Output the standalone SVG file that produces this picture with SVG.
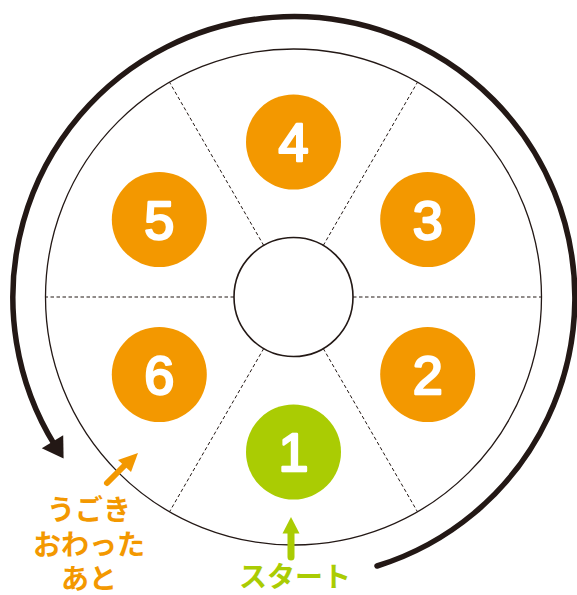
<svg xmlns="http://www.w3.org/2000/svg" width="577" height="595" viewBox="0 0 577 595">
<style>
.num{font-family:"Liberation Sans","DejaVu Sans",sans-serif;font-size:54px;fill:#fff;stroke:#fff;stroke-width:2.5;stroke-linejoin:round;text-anchor:middle}
.jp{font-family:"Noto Sans CJK JP",sans-serif;font-weight:bold;font-size:28px;text-anchor:middle}
.div{stroke:#231815;stroke-width:1;stroke-dasharray:3.5 2.5;fill:none}
.orange{fill:#F39800}
</style>
<rect width="577" height="595" fill="#fff"/>
<g id="wheel">
<circle cx="293.5" cy="297" r="248" fill="none" stroke="#231815" stroke-width="1.3"/>
</g>
<g id="connectors">
<line class="div" x1="353" y1="297" x2="541.5" y2="297"/>
<line class="div" x1="234" y1="297" x2="45.5" y2="297"/>
<line class="div" x1="323.25" y1="245.5" x2="417.5" y2="82.2"/>
<line class="div" x1="263.75" y1="245.5" x2="169.5" y2="82.2"/>
<line class="div" x1="323.25" y1="348.5" x2="417.5" y2="511.8"/>
<line class="div" x1="263.75" y1="348.5" x2="169.5" y2="511.8"/>
<path d="M377 566 A281 281 0 1 0 55.2 445.9" fill="none" stroke="#231815" stroke-width="5.5" stroke-linecap="round"/>
<polygon points="63.6,458.6 41.8,448.2 63.2,435.2" fill="#231815"/>
<line x1="107" y1="483" x2="127" y2="463" stroke="#F39800" stroke-width="6" stroke-linecap="round"/>
<polygon points="138,453 118,460 131,472" fill="#F39800"/>
<line x1="291" y1="557" x2="291" y2="528" stroke="#AACC03" stroke-width="7" stroke-linecap="round"/>
<polygon points="291,517 282.5,533.5 299.5,533.5" fill="#AACC03"/>
</g>
<g id="center"><circle cx="293.5" cy="297" r="59.5" fill="#fff" stroke="#231815" stroke-width="1.6"/></g>
<g id="n1"><circle cx="293.5" cy="452" r="47.5" fill="#AACC03"/><text class="num" x="293.5" y="471.3">1</text></g>
<g id="n2"><circle cx="427.7" cy="374.5" r="47.5" class="orange"/><text class="num" x="427.7" y="393.8">2</text></g>
<g id="n3"><circle cx="427.7" cy="219.5" r="47.5" class="orange"/><text class="num" x="427.7" y="238.8">3</text></g>
<g id="n4"><circle cx="293.5" cy="142" r="47.5" class="orange"/><text class="num" x="293.5" y="161.3">4</text></g>
<g id="n5"><circle cx="159.3" cy="219.5" r="47.5" class="orange"/><text class="num" x="159.3" y="238.8">5</text></g>
<g id="n6"><circle cx="159.3" cy="374.5" r="47.5" class="orange"/><text class="num" x="159.3" y="393.8">6</text></g>
<g id="label-after" class="jp" fill="#F39800">
<text x="89" y="520">うごき</text>
<text x="89" y="555">おわった</text>
<text x="89" y="589">あと</text>
</g>
<g id="label-start"><text class="jp" x="295" y="587" fill="#AACC03">スタート</text></g>
</svg>
